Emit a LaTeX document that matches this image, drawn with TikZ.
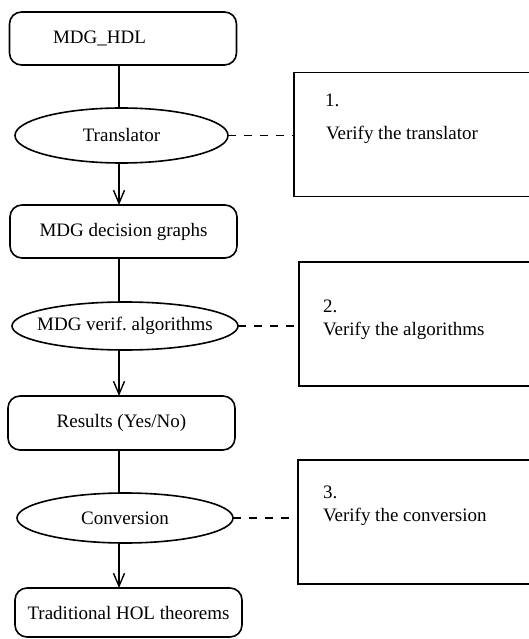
\documentclass[tikz,border=0pt]{standalone}
\usepackage{fontspec}
\setmainfont{Liberation Serif}
\usetikzlibrary{shapes.geometric,arrows.meta}
\begin{document}
\begin{tikzpicture}[x=1pt,y=-1pt,
  every node/.style={font=\fontsize{19}{23}\selectfont, inner sep=0pt, outer sep=0pt},
  flowbox/.style={draw, rounded corners=12pt, line width=1.6pt, minimum width=227pt},
  proc/.style={draw, ellipse, line width=1.6pt},
  notebox/.style={draw, rectangle, line width=1.6pt, minimum width=241pt, minimum height=124pt},
  notetext/.style={anchor=west},
  conn/.style={line width=1.4pt},
  arr/.style={line width=1.4pt, -{Straight Barb[length=13pt,width=11pt,line width=1.4pt]}},
  dashline/.style={line width=1.4pt, dash pattern=on 8pt off 8pt}
]
\useasboundingbox (0,0) rectangle (528,639);
\coordinate (cx) at (119,0);

% left column
\node[flowbox, minimum height=53pt, text width=140pt, inner xsep=43pt, align=left] (b1) at (123,38.5) {MDG\_HDL};
\node[proc, minimum width=213pt, minimum height=55pt] (e1) at (121.5,135.5) {\makebox[0pt]{Translator}};
\node[flowbox, minimum height=53pt] (b2) at (123.5,231.5) {MDG decision graphs};
\node[proc, minimum width=226pt, minimum height=48pt] (e2) at (125,326) {\makebox[0pt]{MDG verif.\ algorithms}};
\node[flowbox, minimum height=54pt] (b3) at (121.5,423) {Results (Yes/No)};
\node[proc, minimum width=216pt, minimum height=50pt] (e3) at (125,518) {\makebox[0pt]{Conversion}};
\node[flowbox, minimum height=49pt] (b4) at (128.5,612.5) {Traditional HOL theorems};

% right column boxes
\node[notebox] (r1) at (414.5,134.5) {};
\node[notebox, minimum width=236pt] (r2) at (417,324) {};
\node[notebox, minimum width=237pt] (r3) at (416.5,522) {};

\node[notetext] (n1) at (325,100) {1.};
\node[notetext] (t1) at (326,135) {Verify the translator};
\node[notetext] (n2) at (323,306) {2.};
\node[notetext] (t2) at (323,331) {Verify the algorithms};
\node[notetext] (n3) at (323,492) {3.};
\node[notetext] (t3) at (323,517) {Verify the conversion};

% connectors
\draw[conn] (b1.south -| cx) -- (e1.north -| cx);
\draw[arr] (e1.south -| cx) -- (b2.north -| cx);
\draw[conn] (b2.south -| cx) -- (e2.north -| cx);
\draw[arr] (e2.south -| cx) -- (b3.north -| cx);
\draw[conn] (b3.south -| cx) -- (e3.north -| cx);
\draw[arr] (e3.south -| cx) -- (b4.north -| cx);

\draw[dashline] (e1.east) -- (e1.east -| r1.west);
\draw[dashline] (e2.east) -- (e2.east -| r2.west);
\draw[dashline] (e3.east) -- (e3.east -| r3.west);
\end{tikzpicture}
\end{document}
